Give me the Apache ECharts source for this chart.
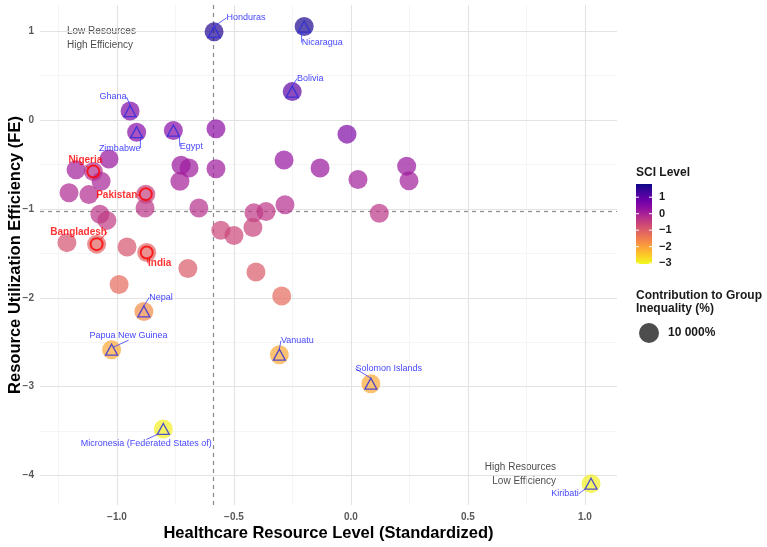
<!DOCTYPE html>
<html><head><meta charset="utf-8">
<script src="https://cdn.jsdelivr.net/npm/echarts@6/dist/echarts.min.js"></script>
<style>html,body{margin:0;padding:0;background:#fff}#c{width:767px;height:547px}</style>
</head><body><div id="c"></div>
<script>
// ---------- data ----------
const xTicks = [-1, -0.5, 0, 0.5, 1];
const xMinorTicks = [-1.25, -0.75, -0.25, 0.25, 0.75];
const yTicks = [1, 0, -1, -2, -3, -4];
const yMinorTicks = [0.5, -0.5, -1.5, -2.5, -3.5];
const sciTicks = [1, 0, -1, -2, -3];
const refX = -0.591;   // vertical reference (median resource level)
const refY = -1.034;   // horizontal reference (median efficiency)
const xTitle = 'Healthcare Resource Level (Standardized)';
const yTitle = 'Resource Utilization Efficiency (FE)';

// unlabeled countries
const bgX   = [-0.577,-0.017,-0.577,-0.726,-0.692,-0.731,-0.286,-0.132,0.030,0.238,0.248,0.121,-1.034,-1.175,-1.068,-1.205,-1.120,-0.880,-1.073,-1.043,-0.650,-0.415,-0.363,-0.282,-0.556,-0.500,-0.419,-1.214,-0.957,-0.697,-0.406,-0.991,-0.296];
const bgY   = [-0.10,-0.16,-0.55,-0.51,-0.54,-0.69,-0.45,-0.54,-0.67,-0.52,-0.685,-1.05,-0.44,-0.56,-0.69,-0.82,-0.84,-0.99,-1.06,-1.13,-0.99,-1.045,-1.03,-0.955,-1.24,-1.30,-1.21,-1.38,-1.43,-1.67,-1.71,-1.85,-1.98];
const bgSCI = [0.40,0.55,0.15,0.20,0.15,0.05,0.25,0.20,0.10,0.20,0.10,-0.30,0.20,0.10,0.00,-0.10,-0.15,-0.30,-0.30,-0.40,-0.25,-0.35,-0.35,-0.20,-0.60,-0.60,-0.55,-0.80,-0.85,-0.95,-0.95,-1.20,-1.20];

// highlighted countries (triangles, blue labels)
const triNames = ['Honduras','Nicaragua','Bolivia','Ghana','Zimbabwe','Egypt','Nepal','Papua New Guinea','Micronesia (Federated States of)','Vanuatu','Solomon Islands','Kiribati'];
const triX   = [-0.585,-0.200,-0.251,-0.944,-0.916,-0.759,-0.885,-1.023,-0.802,-0.306,0.085,1.026];
const triY   = [0.99,1.05,0.318,0.10,-0.138,-0.12,-2.154,-2.584,-3.475,-2.64,-2.966,-4.09];
const triSCI = [1.60,1.65,1.00,0.55,0.45,0.45,-1.70,-2.10,-2.95,-2.10,-2.10,-2.95];

// highlighted countries (circles, red labels)
const cirNames = ['Nigeria','Pakistan','Bangladesh','India'];
const cirX   = [-1.101,-0.877,-1.087,-0.873];
const cirY   = [-0.581,-0.835,-1.397,-1.491];
const cirSCI = [-0.20,-0.50,-1.10,-1.10];

const sciMin = -3.05, sciMax = 1.8;

// ---------- styles ----------
const FONT = "'Liberation Sans', Arial, Helvetica, sans-serif";
const triOffsets = [[32,-14],[18,16],[18,-13],[-17,-14],[-17,16],[18,16],[17,-14],[17,-14],[-17,15],[18,-14],[18,-15],[-26,10]];
const cirOffsets = [[-8,-11],[-29,1],[-18,-12],[13,11]];
const plasma = ['#0d0887','#41049d','#6a00a8','#8f0da4','#b12a90','#cc4778','#e16462','#f2844b','#fca636','#fcce25','#f0f921'];

const bubbles = [];
bgX.forEach((x,i)=>bubbles.push([x,bgY[i],bgSCI[i]]));
triX.forEach((x,i)=>bubbles.push([x,triY[i],triSCI[i]]));
cirX.forEach((x,i)=>bubbles.push([x,cirY[i],cirSCI[i]]));

const majorStyle = {color:'#e3e3e3', width:1.1, type:'solid'};
const minorStyle = {color:'#f1f1f1', width:0.7, type:'solid'};
const gridLines = []
  .concat(xMinorTicks.map(v=>({xAxis:v, lineStyle:minorStyle})))
  .concat(yMinorTicks.map(v=>({yAxis:v, lineStyle:minorStyle})))
  .concat(xTicks.map(v=>({xAxis:v, lineStyle:majorStyle})))
  .concat(yTicks.map(v=>({yAxis:v, lineStyle:majorStyle})));

const minus = s => String(s).replace('-', '\u2212');

const chart = echarts.init(document.getElementById('c'), null, {renderer:'canvas'});

// legend geometry
const cbX = 636, cbY = 184, cbW = 16, cbH = 80;
const cbPos = v => cbY + (sciMax - v) / (sciMax - sciMin) * cbH;
const legendGraphics = [
  {type:'text', x:328.5, y:533, style:{text:xTitle, font:'bold 16.5px '+FONT, fill:'#000', textAlign:'center', textVerticalAlign:'middle'}},
  {type:'text', x:15, y:255, rotation:Math.PI/2, style:{text:yTitle, font:'bold 16.5px '+FONT, fill:'#000', textAlign:'center', textVerticalAlign:'middle'}},
  {type:'text', x:cbX, y:173, style:{text:'SCI Level', font:'bold 12px '+FONT, fill:'#1a1a1a', textVerticalAlign:'middle'}},
  {type:'rect', shape:{x:cbX,y:cbY,width:cbW,height:cbH}, style:{fill:new echarts.graphic.LinearGradient(0,0,0,1, plasma.map((c,i)=>({offset:i/(plasma.length-1), color:c})))}},
];
sciTicks.forEach(v=>{
  const py = cbPos(v);
  legendGraphics.push({type:'line', shape:{x1:cbX,y1:py,x2:cbX+3,y2:py}, style:{stroke:'#fff', lineWidth:1}});
  legendGraphics.push({type:'line', shape:{x1:cbX+cbW-3,y1:py,x2:cbX+cbW,y2:py}, style:{stroke:'#fff', lineWidth:1}});
  legendGraphics.push({type:'text', x:cbX+cbW+7, y:py, style:{text:minus(v), font:'bold 11px '+FONT, fill:'#1a1a1a', textVerticalAlign:'middle'}});
});
legendGraphics.push(
  {type:'text', x:cbX, y:296, style:{text:'Contribution to Group', font:'bold 12px '+FONT, fill:'#1a1a1a', textVerticalAlign:'middle'}},
  {type:'text', x:cbX, y:309, style:{text:'Inequality (%)', font:'bold 12px '+FONT, fill:'#1a1a1a', textVerticalAlign:'middle'}},
  {type:'circle', shape:{cx:cbX+13, cy:333, r:10}, style:{fill:'#4d4d4d'}},
  {type:'text', x:cbX+32, y:333, style:{text:'10 000%', font:'bold 12px '+FONT, fill:'#1a1a1a', textVerticalAlign:'middle'}},
  {type:'text', x:67, y:31, style:{text:'Low Resources', font:'10px '+FONT, fill:'#4d4d4d', textVerticalAlign:'middle'}},
  {type:'text', x:67, y:45, style:{text:'High Efficiency', font:'10px '+FONT, fill:'#4d4d4d', textVerticalAlign:'middle'}},
  {type:'text', x:556, y:467, style:{text:'High Resources', font:'10px '+FONT, fill:'#4d4d4d', textVerticalAlign:'middle', textAlign:'right'}},
  {type:'text', x:556, y:481, style:{text:'Low Efficiency', font:'10px '+FONT, fill:'#4d4d4d', textVerticalAlign:'middle', textAlign:'right'}}
);

const labelBase = {show:true, position:'inside', formatter:'{b}', fontFamily:FONT, textBorderWidth:0, textBorderColor:'transparent', textShadowBlur:0};

chart.setOption({
  animation:false,
  backgroundColor:'#fff',
  textStyle:{fontFamily:FONT},
  grid:{left:40, right:150, top:5, bottom:42, containLabel:false, outerBoundsMode:'none'},
  xAxis:{type:'value', min:-1.329, max:1.137,
    axisLine:{show:false}, axisTick:{show:false}, splitLine:{show:false},
    axisLabel:{customValues:xTicks, margin:7, fontSize:10, fontWeight:'bold', color:'#595959', fontFamily:FONT,
      formatter:v=>minus(Number(v).toFixed(1))}},
  yAxis:{type:'value', min:-4.33, max:1.292,
    axisLine:{show:false}, axisTick:{show:false}, splitLine:{show:false},
    axisLabel:{customValues:yTicks, margin:6, fontSize:10, fontWeight:'bold', color:'#595959', fontFamily:FONT,
      formatter:v=>minus(Math.round(v))}},
  visualMap:{type:'continuous', show:false, seriesIndex:2, dimension:2, min:sciMin, max:sciMax,
    inRange:{color:plasma.slice().reverse()}},
  graphic:legendGraphics,
  series:[
    {type:'scatter', data:[], silent:true, z:0,
      markLine:{silent:true, z:0, symbol:'none', label:{show:false}, animation:false, data:gridLines}},
    {type:'scatter', data:[], silent:true, z:1,
      markLine:{silent:true, z:1, symbol:'none', label:{show:false}, animation:false,
        lineStyle:{color:'#8c8c8c', type:[4,4], width:1.2},
        data:[{xAxis:refX},{yAxis:refY}]}},
    {type:'scatter', data:bubbles, symbolSize:19, z:2, itemStyle:{opacity:0.7}},
    {type:'scatter', z:3, symbol:'triangle', symbolSize:[12,11],
      data:triX.map((x,i)=>({name:triNames[i], value:[x,triY[i]]})),
      itemStyle:{color:'rgba(0,0,0,0)', borderColor:'#2b2bdc', borderWidth:1.3},
      label:Object.assign({}, labelBase, {color:'#1010ff', fontSize:9}),
      labelLine:{show:true, lineStyle:{color:'#3a3aff', width:0.8}},
      labelLayout:p=>({dx:triOffsets[p.dataIndex][0], dy:triOffsets[p.dataIndex][1]})},
    {type:'scatter', z:3, symbol:'circle', symbolSize:12,
      data:cirX.map((x,i)=>({name:cirNames[i], value:[x,cirY[i]]})),
      itemStyle:{color:'rgba(0,0,0,0)', borderColor:'#ff0000', borderWidth:2},
      label:Object.assign({}, labelBase, {color:'#ff0000', fontSize:10, fontWeight:'bold'}),
      labelLine:{show:true, lineStyle:{color:'#ff0000', width:0.8}},
      labelLayout:p=>({dx:cirOffsets[p.dataIndex][0], dy:cirOffsets[p.dataIndex][1]})}
  ]
});
</script></body></html>
